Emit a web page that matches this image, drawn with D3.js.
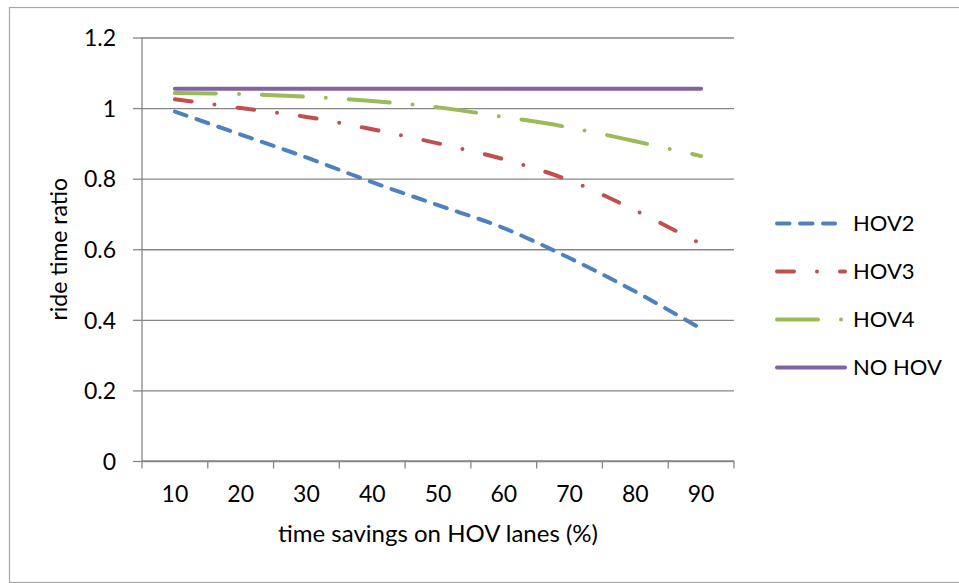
<!DOCTYPE html>
<html>
<head>
<meta charset="utf-8">
<script src="https://cdn.jsdelivr.net/npm/d3@7"></script>
<style>
  body { margin: 0; background: #fff; }
  text { font-family: Lato, "Open Sans", sans-serif; fill: #000; }
</style>
</head>
<body>
<script>
var savings = [10, 20, 30, 40, 50, 60, 70, 80, 90];
var hov2 = [0.99, 0.925, 0.86, 0.79, 0.725, 0.66, 0.575, 0.48, 0.375];
var hov3 = [1.025, 1.0, 0.975, 0.94, 0.9, 0.855, 0.795, 0.71, 0.615];
var hov4 = [1.043, 1.04, 1.032, 1.02, 1.002, 0.975, 0.945, 0.906, 0.864];
var noHov = [1.055, 1.055, 1.055, 1.055, 1.055, 1.055, 1.055, 1.055, 1.055];
var seriesNames = ['HOV2', 'HOV3', 'HOV4', 'NO HOV'];
var yTicks = [0, 0.2, 0.4, 0.6, 0.8, 1, 1.2];

var width = 959, height = 583;
var plotLeft = 142, plotRight = 734, plotTop = 37.5, plotBottom = 461;
var fontSize = '23px';

var series = [
  {name: seriesNames[0], values: hov2, color: '#4F81BD', dash: '12.5,10.5'},
  {name: seriesNames[1], values: hov3, color: '#C0504D', dash: '17,23,0,23'},
  {name: seriesNames[2], values: hov4, color: '#9BBB59', dash: '41,23,0,23'},
  {name: seriesNames[3], values: noHov, color: '#8064A2', dash: null}
];

var svg = d3.select('body').append('svg')
  .attr('width', width)
  .attr('height', height);

// outer chart border
svg.append('rect')
  .attr('x', 9.5).attr('y', 7.5)
  .attr('width', 960).attr('height', 575)
  .attr('fill', 'none')
  .attr('stroke', '#a6a6a6')
  .attr('stroke-width', 1.2);

var x = d3.scaleBand().domain(savings).range([plotLeft, plotRight]).padding(0);
var y = d3.scaleLinear().domain([0, 1.2]).range([plotBottom, plotTop]);

// gridlines + y ticks
svg.append('g')
  .attr('transform', 'translate(' + plotLeft + ',0)')
  .call(d3.axisLeft(y).tickValues(yTicks).tickSize(9).tickPadding(17)
    .tickFormat(function(d){ return String(+d.toFixed(1)) }))
  .call(function(g){
    g.select('.domain').remove();
    g.selectAll('.tick line').attr('stroke', '#868686').attr('stroke-width', 1.3);
    g.selectAll('.tick').append('line')
      .attr('x1', 0).attr('x2', plotRight - plotLeft)
      .attr('stroke', '#868686').attr('stroke-width', 1.3);
    g.selectAll('.tick text').style('font-size', fontSize).attr('dy', '0.36em');
  });

// y axis line
svg.append('line')
  .attr('x1', plotLeft).attr('x2', plotLeft)
  .attr('y1', plotTop).attr('y2', plotBottom)
  .attr('stroke', '#868686').attr('stroke-width', 1.3);

// x axis labels
svg.append('g')
  .attr('transform', 'translate(0,' + plotBottom + ')')
  .call(d3.axisBottom(x).tickSize(0).tickPadding(25))
  .call(function(g){
    g.select('.domain').remove();
    g.selectAll('.tick text').style('font-size', fontSize);
  });

// x tick marks between categories
var edges = savings.map(function(d){ return x(d) }).concat([x(savings[savings.length - 1]) + x.bandwidth()]);
svg.append('g').selectAll('line')
  .data(edges)
  .enter()
  .append('line')
  .attr('x1', function(d){ return d }).attr('x2', function(d){ return d })
  .attr('y1', plotBottom).attr('y2', plotBottom + 7.5)
  .attr('stroke', '#868686').attr('stroke-width', 1.3);

svg.append('line')
  .attr('x1', plotLeft).attr('x2', plotRight)
  .attr('y1', plotBottom).attr('y2', plotBottom)
  .attr('stroke', '#868686').attr('stroke-width', 1.3);

// series lines
var line = d3.line()
  .x(function(d, i){ return x(savings[i]) + x.bandwidth() / 2 })
  .y(function(d){ return y(d) })
  .curve(d3.curveCatmullRom);

svg.append('g').selectAll('path')
  .data(series)
  .enter()
  .append('path')
  .attr('d', function(s){ return line(s.values) })
  .attr('fill', 'none')
  .attr('stroke', function(s){ return s.color })
  .attr('stroke-width', 4)
  .attr('stroke-linecap', 'round')
  .attr('stroke-dasharray', function(s){ return s.dash });

// legend
var legend = svg.append('g').selectAll('g')
  .data(series)
  .enter()
  .append('g')
  .attr('transform', function(s, i){ return 'translate(777,' + (223.5 + i * 48) + ')' });

legend.append('line')
  .attr('x1', 0)
  .attr('x2', function(s, i){ return i === 0 ? 58 : 68 })
  .attr('stroke', function(s){ return s.color })
  .attr('stroke-width', 4)
  .attr('stroke-linecap', 'round')
  .attr('stroke-dasharray', function(s){ return s.dash });

legend.append('text')
  .attr('x', 76)
  .attr('dy', '0.36em')
  .style('font-size', '22px')
  .text(function(s){ return s.name });

// axis titles
svg.append('text')
  .attr('x', (plotLeft + plotRight) / 2)
  .attr('y', 542)
  .attr('text-anchor', 'middle')
  .style('font-size', '24px')
  .text('time savings on HOV lanes (%)');

svg.append('text')
  .attr('transform', 'translate(67,' + ((plotTop + plotBottom) / 2) + ') rotate(-90)')
  .attr('text-anchor', 'middle')
  .style('font-size', fontSize)
  .text('ride time ratio');
</script>
</body>
</html>
